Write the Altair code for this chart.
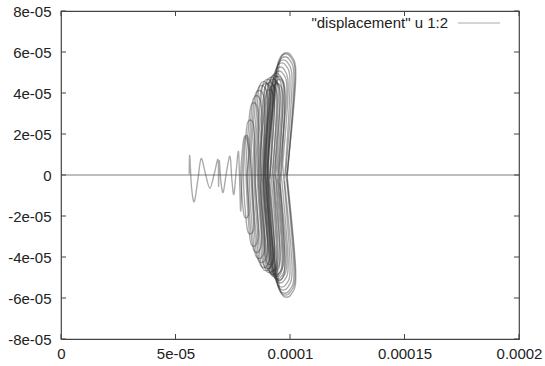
import altair as alt
import pandas as pd

# ---- data (trajectory values in units of 1e-5) ----
wave_x = [5.60, 5.62, 5.70, 5.82, 5.98, 6.12, 6.30, 6.50, 6.70, 6.86, 6.88, 6.91, 6.98,
          7.08, 7.22, 7.38, 7.46, 7.55, 7.65, 7.75, 7.80, 7.85, 7.92, 8.05, 8.20]
wave_y = [0.05, 0.95, -0.60, -1.30, -0.20, 0.80, 0.10, -0.65, 0.10, 0.75, -0.55, 0.70, -0.30,
          -0.85, 0.10, 0.92, -0.20, -0.95, 0.20, 1.15, -0.30, -1.75, 0.30, 1.85, 1.15]

loop_x = [
    8.11, 8.21, 8.15, 8.02, 7.95, 7.85, 7.95, 8.02, 8.15, 8.21,
    8.31, 8.43, 8.35, 8.18, 8.09, 7.97, 8.09, 8.18, 8.35, 8.43,
    8.48, 8.62, 8.52, 8.32, 8.22, 8.08, 8.22, 8.32, 8.52, 8.62,
    8.61, 8.77, 8.66, 8.43, 8.31, 8.15, 8.31, 8.43, 8.66, 8.77,
    8.72, 8.90, 8.78, 8.53, 8.40, 8.22, 8.40, 8.53, 8.78, 8.90,
    8.83, 9.03, 8.90, 8.63, 8.49, 8.29, 8.49, 8.63, 8.90, 9.03,
    8.92, 9.14, 9.00, 8.72, 8.58, 8.36, 8.58, 8.72, 9.00, 9.14,
    9.01, 9.24, 9.10, 8.81, 8.66, 8.43, 8.66, 8.81, 9.10, 9.24,
    9.12, 9.32, 9.21, 8.99, 8.88, 8.68, 8.88, 8.99, 9.21, 9.32,
    9.09, 9.33, 9.18, 8.88, 8.73, 8.49, 8.73, 8.88, 9.18, 9.33,
    9.16, 9.41, 9.26, 8.96, 8.81, 8.56, 8.81, 8.96, 9.26, 9.41,
    9.25, 9.45, 9.35, 9.15, 9.05, 8.85, 9.05, 9.15, 9.35, 9.45,
    9.24, 9.49, 9.34, 9.03, 8.87, 8.62, 8.87, 9.03, 9.34, 9.49,
    9.31, 9.57, 9.42, 9.11, 8.95, 8.69, 8.95, 9.11, 9.42, 9.57,
    9.34, 9.56, 9.45, 9.23, 9.12, 8.90, 9.12, 9.23, 9.45, 9.56,
    9.38, 9.65, 9.49, 9.17, 9.01, 8.74, 9.01, 9.17, 9.49, 9.65,
    9.44, 9.72, 9.56, 9.24, 9.08, 8.80, 9.08, 9.24, 9.56, 9.72,
    9.45, 9.69, 9.57, 9.32, 9.19, 8.95, 9.19, 9.32, 9.57, 9.69,
    9.50, 9.78, 9.62, 9.29, 9.12, 8.84, 9.12, 9.29, 9.62, 9.78,
    9.56, 9.86, 9.69, 9.35, 9.18, 8.88, 9.18, 9.35, 9.69, 9.86,
    9.53, 9.78, 9.66, 9.41, 9.28, 9.03, 9.28, 9.41, 9.66, 9.78,
    9.62, 9.92, 9.75, 9.40, 9.22, 8.92, 9.22, 9.40, 9.75, 9.92,
    9.68, 10.00, 9.82, 9.46, 9.28, 8.96, 9.28, 9.46, 9.82, 10.00,
    9.76, 10.09, 9.90, 9.52, 9.33, 9.00, 9.33, 9.52, 9.90, 10.09,
    9.82, 10.17, 9.97, 9.57, 9.37, 9.02, 9.37, 9.57, 9.97, 10.17,
    9.87, 10.22, 10.01, 9.59, 9.38, 9.03, 9.38, 9.59, 10.01, 10.22,
    9.87, 10.25, 10.05, 9.65, 9.45, 9.07, 9.45, 9.65, 10.05, 10.25,
    9.87,
]
loop_y = [
    0.0, -1.64, -2.04, -2.04, -1.64, 0.0, 1.52, 1.89, 1.89, 1.52,
    0.3, -2.26, -2.81, -2.81, -2.26, -0.2, 2.11, 2.62, 2.62, 2.11,
    -0.4, -2.73, -3.40, -3.40, -2.73, 0.2, 2.77, 3.44, 3.44, 2.77,
    0.2, -2.96, -3.69, -3.69, -2.96, -0.3, 3.04, 3.78, 3.78, 3.04,
    0.5, -3.20, -3.98, -3.98, -3.20, 0.0, 3.24, 4.03, 4.03, 3.24,
    -0.3, -3.35, -4.17, -4.17, -3.35, 0.4, 3.43, 4.27, 4.27, 3.43,
    0.0, -3.55, -4.41, -4.41, -3.55, -0.2, 3.59, 4.46, 4.46, 3.59,
    0.4, -3.67, -4.56, -4.56, -3.67, 0.1, 3.51, 4.37, 4.37, 3.51,
    -0.2, -3.43, -4.27, -4.27, -3.43, 0.3, 3.28, 4.07, 4.07, 3.28,
    -0.4, -3.59, -4.46, -4.46, -3.59, 0.0, 3.67, 4.56, 4.56, 3.67,
    0.2, -3.74, -4.66, -4.66, -3.74, 0.5, 3.55, 4.41, 4.41, 3.55,
    0.0, -3.82, -4.75, -4.75, -3.82, -0.3, 3.43, 4.27, 4.27, 3.43,
    0.3, -3.71, -4.61, -4.61, -3.71, 0.0, 3.74, 4.66, 4.66, 3.74,
    -0.3, -3.82, -4.75, -4.75, -3.82, 0.2, 3.67, 4.56, 4.56, 3.67,
    0.4, -3.67, -4.56, -4.56, -3.67, 0.0, 3.59, 4.46, 4.46, 3.59,
    0.0, -3.90, -4.85, -4.85, -3.90, -0.4, 3.82, 4.75, 4.75, 3.82,
    0.3, -3.82, -4.75, -4.75, -3.82, 0.1, 3.90, 4.85, 4.85, 3.90,
    -0.2, -3.90, -4.85, -4.85, -3.90, 0.3, 3.51, 4.37, 4.37, 3.51,
    0.0, -3.98, -4.95, -4.95, -3.98, 0.0, 3.78, 4.70, 4.70, 3.78,
    -0.4, -4.02, -5.00, -5.00, -4.02, 0.2, 3.98, 4.95, 4.95, 3.98,
    0.2, -4.06, -5.04, -5.04, -4.06, -0.2, 3.67, 4.56, 4.56, 3.67,
    0.0, -4.13, -5.14, -5.14, -4.13, 0.4, 4.13, 5.14, 5.14, 4.13,
    0.5, -4.29, -5.34, -5.34, -4.29, 0.0, 4.29, 5.34, 5.34, 4.29,
    -0.3, -4.41, -5.48, -5.48, -4.41, -0.2, 4.41, 5.48, 5.48, 4.41,
    0.2, -4.52, -5.63, -5.63, -4.52, 0.2, 4.52, 5.63, 5.63, 4.52,
    -0.2, -4.60, -5.72, -5.72, -4.60, 0.0, 4.64, 5.77, 5.77, 4.64,
    0.0, -4.68, -5.82, -5.82, -4.68, 0.3, 4.68, 5.82, 5.82, 4.68,
    0.0,
]
PTS_PER_LOOP = 10

zero_x = [0.0, 20.0]
zero_y = [0.0, 0.0]

x_ticks = [0, 5e-05, 0.0001, 0.00015, 0.0002]
y_ticks = [-8e-05, -6e-05, -4e-05, -2e-05, 0, 2e-05, 4e-05, 6e-05, 8e-05]
legend_label = '"displacement" u 1:2'

# ---- build table ----
rows = []


def add(seg, xs, ys):
    for i, (a, b) in enumerate(zip(xs, ys)):
        rows.append({"seg": seg, "i": i, "x": a * 1e-5, "y": b * 1e-5})


add("zero", zero_x, zero_y)
add("wave", wave_x + loop_x[:1], wave_y + loop_y[:1])
s, k = 0, 0
while s < len(loop_x) - 1:
    add(f"loop{k}", loop_x[s:s + PTS_PER_LOOP + 1], loop_y[s:s + PTS_PER_LOOP + 1])
    s += PTS_PER_LOOP
    k += 1
df = pd.DataFrame(rows)

W, H = 458, 328
FONT = "Liberation Sans"

xscale = alt.Scale(domain=[0, 0.0002], nice=False, zero=False)
yscale = alt.Scale(domain=[-8e-05, 8e-05], nice=False, zero=False)

x_axis = alt.Axis(
    values=x_ticks, title=None, labelPadding=7, labelFlush=False,
    labelExpr="datum.value == 0 ? '0' : datum.value < 9e-05 ? "
              "replace(format(datum.value, '.0e'), 'e-5', 'e-05') : format(datum.value, '~g')",
)
y_axis = alt.Axis(
    values=y_ticks, title=None, labelPadding=10, labelFlush=False,
    labelExpr="datum.value == 0 ? '0' : "
              "replace(replace(format(datum.value, '.0e'), '\u2212', '-'), 'e-5', 'e-05')",
)

lines = alt.Chart(df).mark_line(
    interpolate="cardinal", strokeWidth=1.35, color="#333333", strokeOpacity=0.42
).encode(
    x=alt.X("x:Q", scale=xscale, axis=x_axis),
    y=alt.Y("y:Q", scale=yscale, axis=y_axis),
    detail="seg:N",
    order="i:Q",
)

xt = pd.DataFrame({"x": x_ticks})
yt = pd.DataFrame({"y": y_ticks})
tick_style = dict(color="#444444", strokeWidth=1)
xt_bottom = alt.Chart(xt).mark_rule(**tick_style).encode(
    x=alt.X("x:Q", scale=xscale, axis=x_axis), y=alt.value(H), y2=alt.value(H - 5))
xt_top = alt.Chart(xt).mark_rule(**tick_style).encode(
    x=alt.X("x:Q", scale=xscale, axis=x_axis), y=alt.value(0), y2=alt.value(5))
yt_left = alt.Chart(yt).mark_rule(**tick_style).encode(
    y=alt.Y("y:Q", scale=yscale, axis=y_axis), x=alt.value(0), x2=alt.value(5))
yt_right = alt.Chart(yt).mark_rule(**tick_style).encode(
    y=alt.Y("y:Q", scale=yscale, axis=y_axis), x=alt.value(W), x2=alt.value(W - 5))

leg_df = pd.DataFrame({"t": [legend_label]})
leg_text = alt.Chart(leg_df).mark_text(
    align="right", baseline="middle", font=FONT, fontSize=15, color="#222222"
).encode(x=alt.value(387), y=alt.value(12), text="t:N")
leg_line = alt.Chart(leg_df).mark_rule(color="#aaaaaa", strokeWidth=1).encode(
    x=alt.value(397), x2=alt.value(439), y=alt.value(12))

chart = alt.layer(
    lines, xt_bottom, xt_top, yt_left, yt_right, leg_text, leg_line
).properties(
    width=W, height=H,
    autosize=alt.AutoSizeParams(type="none"),
    padding={"left": 61, "top": 11, "right": 26, "bottom": 27},
    background="white",
).configure_view(
    stroke="#444444", strokeWidth=1.2
).configure_axis(
    domain=False, ticks=False, tickSize=0, grid=False,
    labelFont=FONT, labelFontSize=15, labelColor="#222222",
)

chart.save("out.html", embed_options={"renderer": "svg", "actions": False})
